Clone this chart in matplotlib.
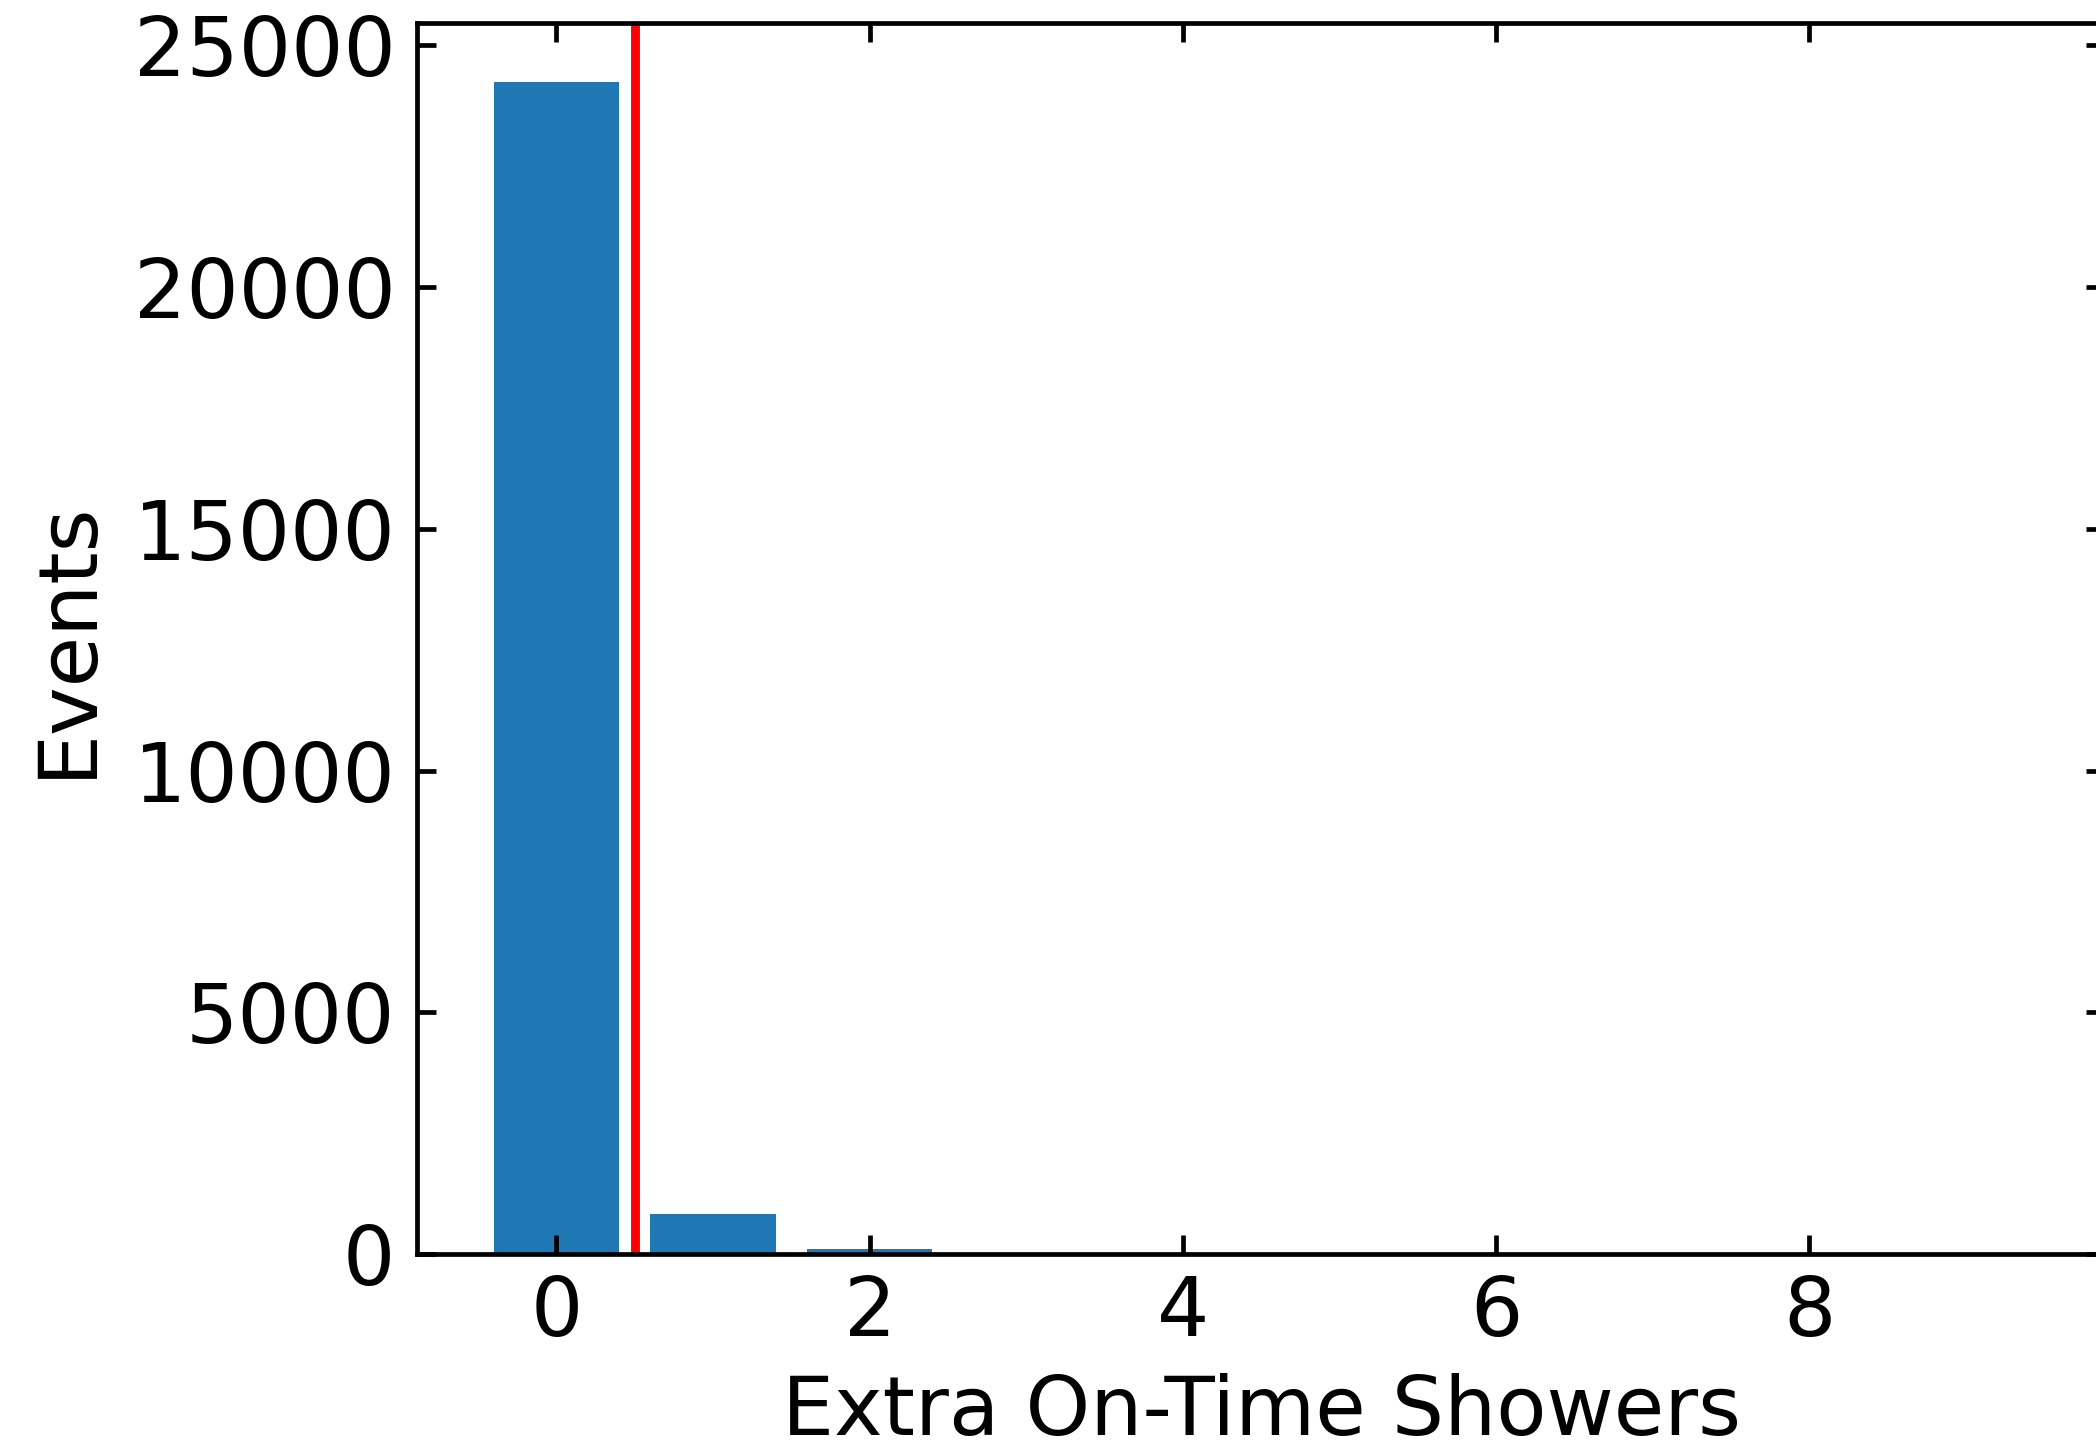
import matplotlib
matplotlib.use("Agg")
import matplotlib.pyplot as plt
import numpy as np

# Number of extra on-time showers per event and the event counts
n_showers = [0, 1, 2, 3, 4, 5, 6, 7, 8, 9]
events = [24250, 830, 100, 0, 0, 0, 0, 0, 0, 0]
cut_value = 0.5

plt.rcParams["font.family"] = "DejaVu Sans"

fig = plt.figure(figsize=(10.48, 7.25), dpi=200)
ax = fig.add_axes([0.199, 0.1352, 1.0045 - 0.199, 0.9841 - 0.1352])

ax.bar(n_showers, events, width=0.8, color="#1f77b4")
ax.axvline(cut_value, color="red", linewidth=3.2)

ax.set_xticks([0, 2, 4, 6, 8])
ax.set_yticks([0, 5000, 10000, 15000, 20000, 25000])
ax.tick_params(direction="in", top=True, right=True, length=7, width=1.7,
               labelsize=29.6)
ax.tick_params(axis="x", pad=7.2)
ax.tick_params(axis="y", pad=7.8)
for s in ax.spines.values():
    s.set_linewidth(1.7)

ax.set_xlabel("Extra On-Time Showers", fontsize=29.6, labelpad=7.3)
ax.set_ylabel("Events", fontsize=29.6, labelpad=9.6)

fig.savefig("out.png", dpi=200)
